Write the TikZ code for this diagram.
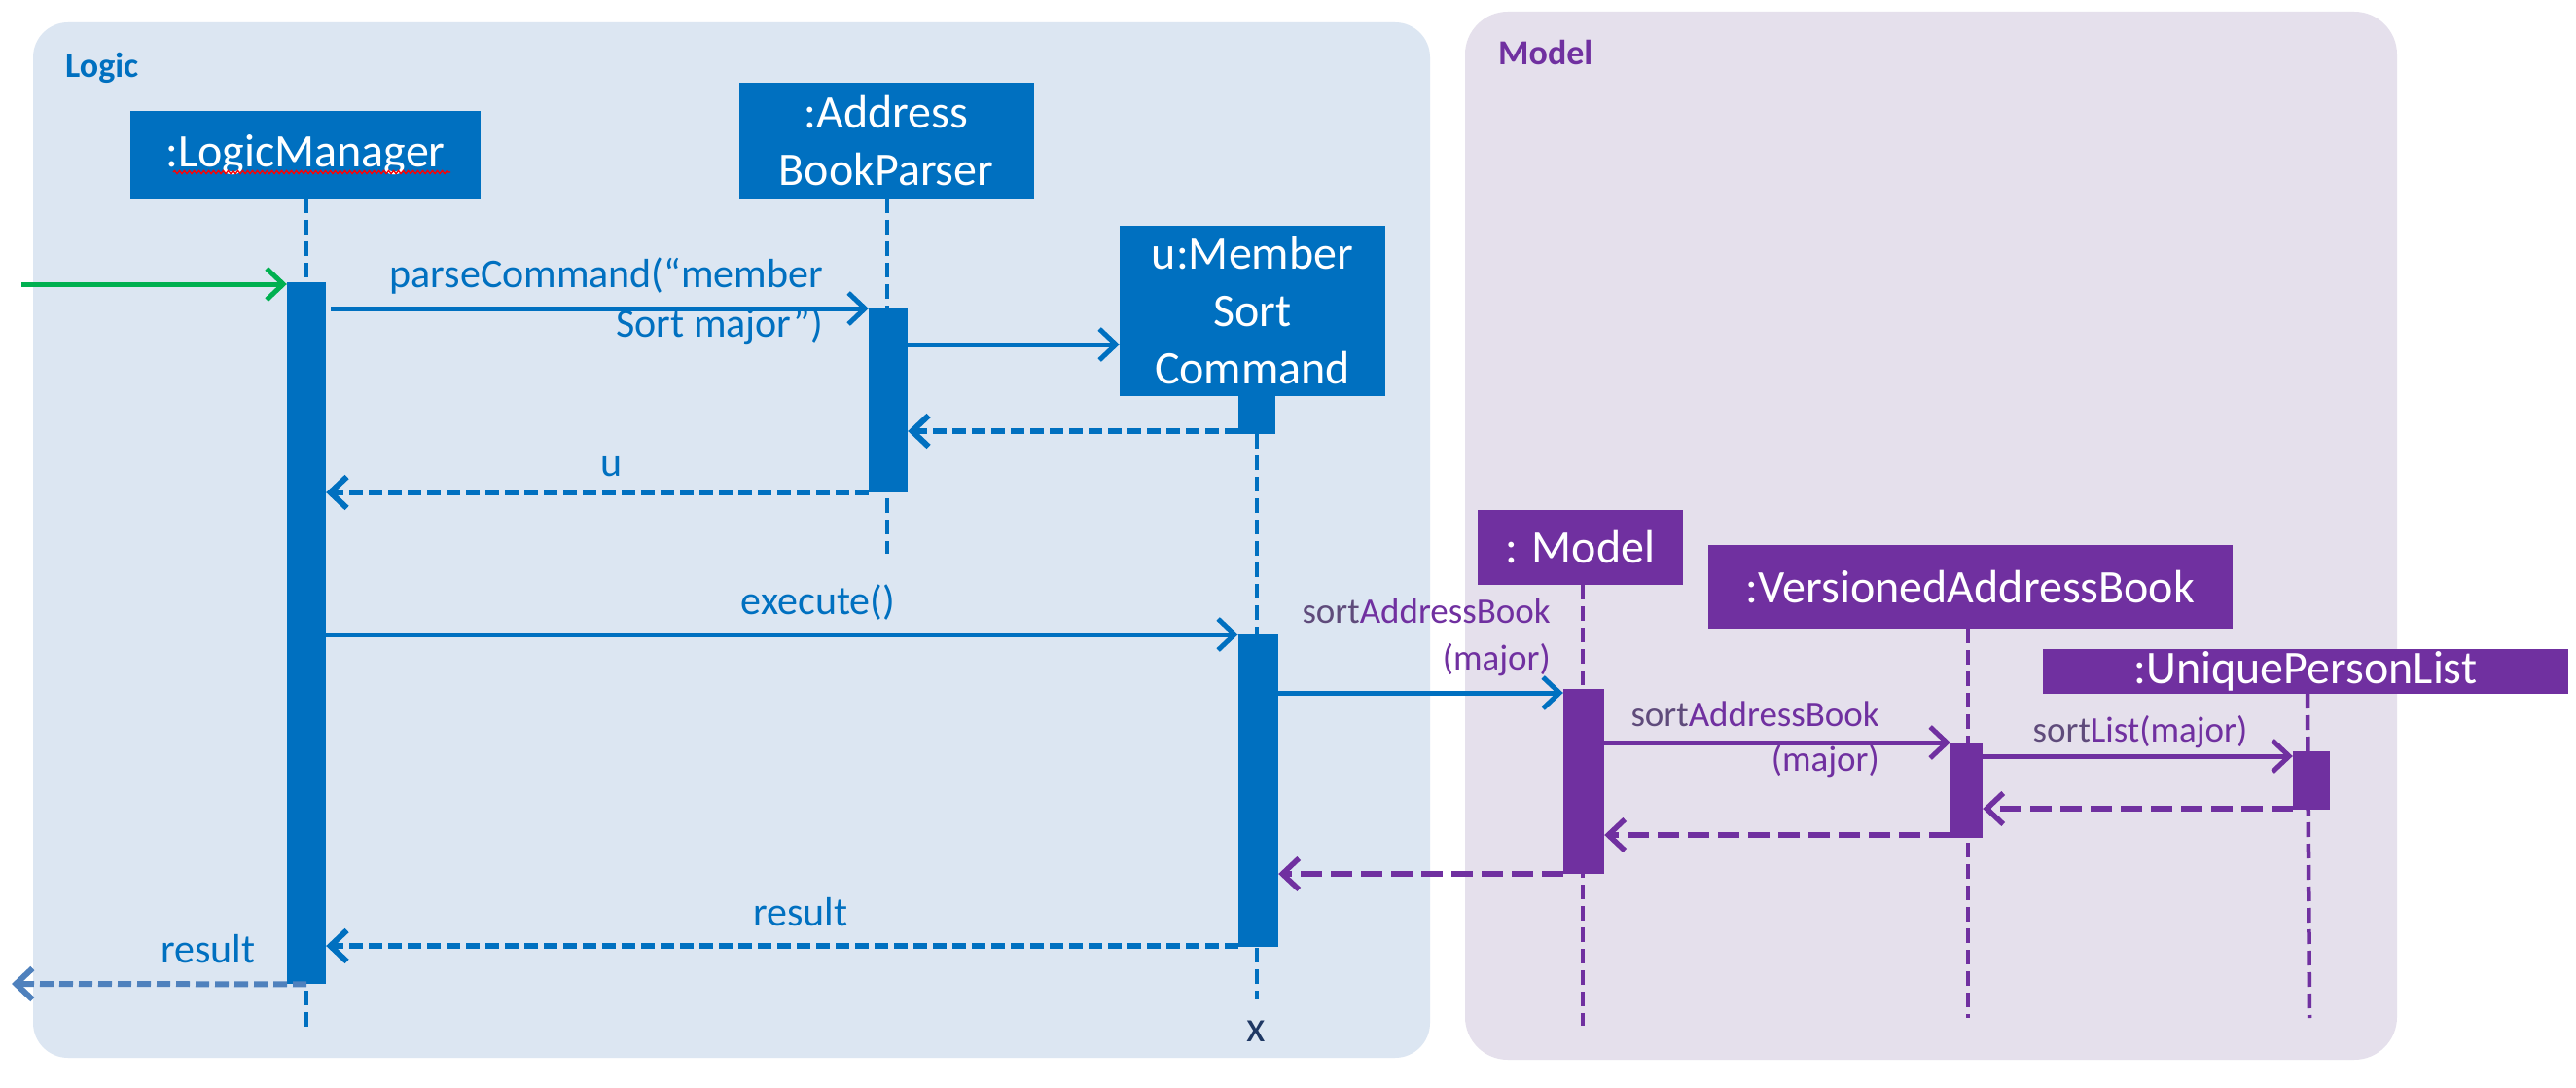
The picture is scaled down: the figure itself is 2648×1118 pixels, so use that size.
\documentclass[tikz,border=0pt]{standalone}
\usepackage{fontspec}
\setmainfont{Carlito}
\usetikzlibrary{arrows.meta,decorations.pathmorphing}
\definecolor{lblue}{HTML}{0070C0}
\definecolor{lpurple}{HTML}{7030A0}
\definecolor{mgray}{HTML}{5F4B7B}
\definecolor{lgreen}{HTML}{00B050}
\definecolor{logicbg}{HTML}{DCE6F2}
\definecolor{modelbg}{HTML}{E5E0EC}
\definecolor{outblue}{HTML}{4F81BD}
\definecolor{navy}{HTML}{1F3864}
\begin{document}
\begin{tikzpicture}[x=1pt,y=-1pt,
  obj/.style={fill=#1, text=white, inner sep=0pt, align=center, font=\fontsize{48}{59}\selectfont},
  actbar/.style={fill=#1, inner sep=0pt, minimum width=40pt, anchor=north},
  life/.style={draw=#1, line width=4.5pt, dash pattern=on 15pt off 7pt},
  tip/.style={-{Straight Barb[length=17pt,width=32pt]}},
  msg/.style={draw=#1, line width=5pt, tip},
  ret/.style={draw=#1, line width=6pt, dash pattern=on 14pt off 6pt, tip},
  pret/.style={draw=#1, line width=5.5pt, dash pattern=on 22pt off 9pt, tip},
  lab/.style={text=lblue, inner sep=0pt, font=\fontsize{42}{50}\selectfont},
  mlab/.style={text=lpurple, inner sep=0pt, font=\fontsize{37}{44}\selectfont},
  frametitle/.style={inner sep=0pt, font=\fontsize{36}{40}\selectfont\bfseries}
]
\useasboundingbox (0,0) rectangle (2648,1118);
\fill[white] (0,0) rectangle (2648,1118);

% frames
\fill[logicbg, rounded corners=36pt] (34,23) rectangle (1470,1087);
\fill[modelbg, rounded corners=44pt] (1506,12) rectangle (2464,1089);
\node[frametitle, text=lblue, anchor=base west] (logictitle) at (67,80) {Logic};
\node[frametitle, text=lpurple, anchor=base west] (modeltitle) at (1540,67) {Model};

% object boxes
\node[obj=lblue, minimum width=360pt, minimum height=90pt] (lm) at (314,159) {:LogicManager};
\node[obj=lblue, minimum width=303pt, minimum height=119pt] (abp) at (911,144.5) {:Address\\BookParser};
\node[obj=lblue, minimum width=273pt, minimum height=175pt] (cmd) at (1287.5,319.5) {u:Member\\Sort\\Command};
\node[obj=lpurple, minimum width=211pt, minimum height=77pt] (model) at (1624.5,562.5) {: Model};
\node[obj=lpurple, minimum width=539pt, minimum height=86pt] (vab) at (2025.5,603) {:VersionedAddressBook};
\node[obj=lpurple, minimum width=540pt, minimum height=46pt] (upl) at (2370,690) {:UniquePersonList};

% squiggle (spell-check underline)
\coordinate (sqa) at (178,177);
\coordinate (sqb) at (463,177);
\draw[red, line width=1.3pt, decorate, decoration={snake, amplitude=1.6pt, segment length=5pt}] (sqa) -- (sqb);

% lifeline ends
\coordinate (lmtop) at (315,204);
\coordinate (lmend) at (315,1060);
\coordinate (abptop) at (912,204);
\coordinate (abpend) at (912,569);
\coordinate (cmdtop) at (1292,446);
\coordinate (cmdend) at (1292,1027);
\coordinate (mtop) at (1627,601);
\coordinate (mend) at (1627,1054);
\coordinate (vtop) at (2023,646);
\coordinate (vend) at (2023,1046);
\coordinate (utop) at (2372,713);
\coordinate (uend) at (2374,1046);

\draw[life=lblue] (lmtop) -- (lmend);
\draw[life=lblue] (abptop) -- (abpend);
\draw[life=lblue] (cmdtop) -- (cmdend);
\draw[life=lpurple] (mtop) -- (mend);
\draw[life=lpurple] (vtop) -- (vend);
\draw[life=lpurple] (utop) -- (uend);

% activation bars
\node[actbar=lblue, minimum height=721pt] (lmbar) at (315,290) {};
\node[actbar=lblue, minimum height=189pt] (abpbar) at (913,317) {};
\node[actbar=lblue, minimum width=38pt, minimum height=40pt] (cmdbar) at (1292,406) {};
\node[actbar=lblue, minimum width=41pt, minimum height=322pt] (exbar) at (1293.5,651) {};
\node[actbar=lpurple, minimum width=42pt, minimum height=190pt] (mbar) at (1628,708) {};
\node[actbar=lpurple, minimum width=33pt, minimum height=98pt] (vbar) at (2021.5,763) {};
\node[actbar=lpurple, minimum width=38pt, minimum height=60pt] (ubar) at (2376,772) {};

% messages
\coordinate (start) at (22,292);
\draw[msg=lgreen] (start) -- (lmbar.west |- 0,292);
\draw[msg=lblue] ([xshift=5pt]lmbar.east |- 0,317) -- (abpbar.west |- 0,317);
\draw[msg=lblue] (abpbar.east |- 0,354) -- (cmd.west |- 0,354);
\draw[ret=lblue] (cmdbar.west |- 0,443) -- (abpbar.east |- 0,443);
\draw[ret=lblue] (abpbar.west |- 0,506) -- (lmbar.east |- 0,506);
\draw[msg=lblue] (lmbar.east |- 0,652) -- (exbar.west |- 0,652);
\draw[msg=lblue] (exbar.east |- 0,712) -- (mbar.west |- 0,712);
\draw[msg=lpurple] (mbar.east |- 0,763) -- (vbar.west |- 0,763);
\draw[msg=lpurple] (vbar.east |- 0,777) -- (ubar.west |- 0,777);
\draw[pret=lpurple] (ubar.west |- 0,831) -- (vbar.east |- 0,831);
\draw[pret=lpurple] (vbar.west |- 0,858) -- (mbar.east |- 0,858);
\draw[pret=lpurple] (mbar.west |- 0,898) -- (exbar.east |- 0,898);
\draw[ret=lblue] (exbar.west |- 0,972) -- (lmbar.east |- 0,972);
\coordinate (outend) at (12,1011);
\draw[ret=outblue] (lmbar.south) -- (outend);

% labels
\node[lab, anchor=base east] (l1a) at (846,295) {parseCommand(“member};
\node[lab, anchor=base east] (l1b) at (846,346) {Sort major”)};
\node[lab, anchor=base] (l2) at (629,489) {u};
\node[lab, anchor=base] (l3) at (841,631) {execute()};
\node[mlab, anchor=base east] (l4a) at (1594,640) {\textcolor{mgray}{sort}AddressBook};
\node[mlab, anchor=base east] (l4b) at (1594,688) {(major)};
\node[mlab, anchor=base east] (l5a) at (1932,746) {\textcolor{mgray}{sort}AddressBook};
\node[mlab, anchor=base east] (l5b) at (1932,792) {(major)};
\node[mlab, anchor=base] (l6) at (2200,762) {\textcolor{mgray}{sort}List(major)};
\node[lab, anchor=base] (l7) at (823,951) {result};
\node[lab, anchor=base] (l8) at (214,989) {result};
\node[inner sep=0pt, text=navy, anchor=base, font=\fontsize{45}{50}\selectfont] (xend) at (1291,1070) {x};
\end{tikzpicture}
\end{document}
